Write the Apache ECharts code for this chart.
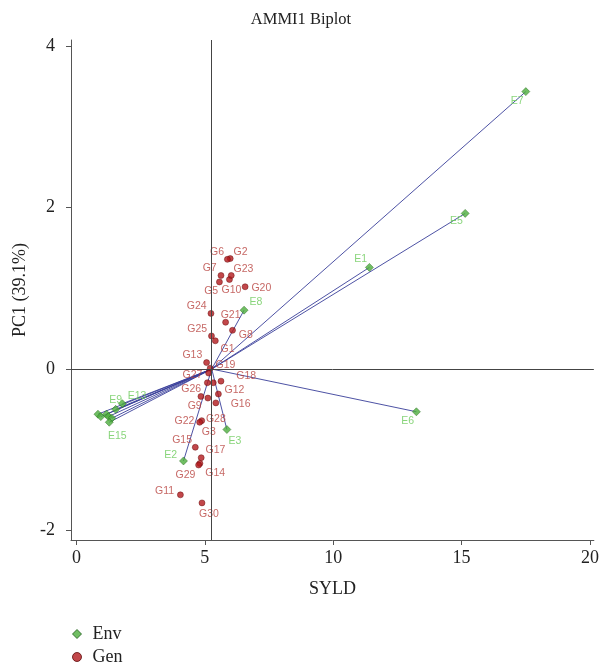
<!DOCTYPE html>
<html>
<head>
<meta charset="utf-8">
<script src="https://cdn.jsdelivr.net/npm/echarts@6/dist/echarts.min.js"></script>
<style>
  html, body { margin: 0; padding: 0; background: #fff; }
  #chart { width: 602px; height: 669px; }
</style>
</head>
<body>
<div id="chart"></div>
<script>
// grand mean of yield (origin of the environment vectors)
var meanYield = 5.27;

var envNames = ['E1', 'E2', 'E3', 'E4', 'E5', 'E6', 'E7', 'E8', 'E9', 'E10', 'E11', 'E12', 'E13', 'E14', 'E15'];
var envX = [11.41, 4.17, 5.86, 0.84, 15.14, 13.24, 17.50, 6.53, 1.53, 0.95, 1.17, 1.25, 1.79, 1.38, 1.28];
var envY = [1.26, -1.14, -0.75, -0.56, 1.93, -0.53, 3.44, 0.73, -0.50, -0.59, -0.56, -0.59, -0.43, -0.61, -0.66];

var genNames = ['G1', 'G2', 'G3', 'G4', 'G5', 'G6', 'G7', 'G8', 'G9', 'G10',
  'G11', 'G12', 'G13', 'G14', 'G15', 'G16', 'G17', 'G18', 'G19', 'G20',
  'G21', 'G22', 'G23', 'G24', 'G25', 'G26', 'G27', 'G28', 'G29', 'G30'];
var genX = [5.41, 5.99, 4.88, 5.12, 5.57, 5.88, 5.63, 6.08, 4.85, 5.96,
  4.05, 5.33, 5.07, 4.81, 4.63, 5.53, 4.86, 5.63, 5.21, 6.57,
  5.81, 4.80, 6.03, 5.24, 5.26, 5.10, 5.15, 5.43, 4.76, 4.89];
var genY = [0.35, 1.37, -0.64, -0.36, 1.08, 1.36, 1.16, 0.48, -0.34, 1.11,
  -1.56, -0.17, 0.08, -1.17, -0.97, -0.31, -1.10, -0.15, 0.01, 1.02,
  0.58, -0.66, 1.16, 0.69, 0.41, -0.17, -0.05, -0.42, -1.19, -1.66];

var xTicks = [0, 5, 10, 15, 20];
var yTicks = [-2, 0, 2, 4];

// label placement: [position, dx, dy, distance]
var envLabelPos = {
  E1: ['left', 2, -8, 0], E2: ['left', 0, -6, 2], E3: ['bottom', 8, 0, 2],
  E5: ['left', 2, 8, 0], E6: ['left', 2, 9, 0], E7: ['left', 2, 9, 0],
  E8: ['right', 0, -8, 1], E9: ['top', 0, 2, 1], E13: ['right', 0, -8, 1], E15: ['bottom', 8, 2, 2]
};
var genLabelPos = {
  G1: ['right', 0, 8, 2], G2: ['right', 0, -6, 0], G3: ['bottom', 7, 0, 3],
  G5: ['left', 0, 9, -2], G6: ['left', 0, -7, 0], G7: ['left', 0, -7, 1],
  G8: ['right', 0, 5, 3], G9: ['left', 0, 10, -4], G10: ['bottom', 2, 0, 2],
  G11: ['left', 0, -4, 3], G12: ['right', 0, 7, 8], G13: ['left', 0, -7, 1],
  G14: ['right', 0, 10, 2], G15: ['left', 0, -7, 0], G16: ['right', 0, 10, 9],
  G17: ['right', 0, -8, 1], G18: ['right', 0, -5, 12], G19: ['right', 0, -3, 2],
  G20: ['right', 0, 1, 3], G21: ['top', 5, 2, 0], G22: ['left', 0, -1, 2],
  G23: ['right', 0, -6, -1], G24: ['left', 0, -7, 1], G25: ['left', 0, -7, 1],
  G26: ['left', 0, 6, 3], G27: ['left', 0, 2, 3], G28: ['bottom', 0, 0, 7],
  G29: ['left', 0, 10, 0], G30: ['bottom', 7, 0, 2]
};

function buildPoints(names, xs, ys, posMap, color) {
  return names.map(function (n, i) {
    var p = posMap[n];
    return {
      name: n,
      value: [xs[i], ys[i]],
      label: p ? {
        show: true, position: p[0], offset: [p[1], p[2]], distance: p[3],
        formatter: '{b}', color: color, fontSize: 10.5, fontFamily: 'Liberation Sans'
      } : { show: false }
    };
  });
}

var envVectors = envNames.map(function (n, i) {
  return { coords: [[meanYield, 0], [envX[i], envY[i]]] };
});

var serif = 'Liberation Serif';

var chart = echarts.init(document.getElementById('chart'));
var option = {
  animation: false,
  title: {
    text: 'AMMI1 Biplot', left: 'center', top: 6,
    textStyle: { fontFamily: serif, fontSize: 16.5, fontWeight: 'normal', color: '#222' }
  },
  grid: { left: 71, right: 6, top: 40, bottom: 129 },
  legend: {
    data: [
      { name: 'Env', icon: 'diamond', itemStyle: { color: '#4cae3c', borderColor: '#1d5a18', borderWidth: 1 } },
      { name: 'Gen', icon: 'circle', itemStyle: { color: '#b3191d', borderColor: '#5c0a0a', borderWidth: 1 } }
    ],
    orient: 'vertical', left: 72, top: 625, height: 60, padding: 0,
    itemWidth: 9, itemHeight: 9, itemGap: 5,
    textStyle: { fontFamily: serif, fontSize: 18, color: '#222', padding: [0, 0, 0, 6] }
  },
  xAxis: {
    type: 'value', min: -0.21, max: 20.15,
    name: 'SYLD', nameLocation: 'middle', nameGap: 40,
    nameTextStyle: { fontFamily: serif, fontSize: 18, color: '#222' },
    axisLine: { show: true, onZero: false, lineStyle: { color: '#555' } },
    axisTick: { show: true, customValues: xTicks, length: 5, lineStyle: { color: '#555' } },
    axisLabel: { customValues: xTicks, fontFamily: serif, fontSize: 18, color: '#222', margin: 9 },
    splitLine: { show: false }
  },
  yAxis: {
    type: 'value', min: -2.12, max: 4.08,
    name: 'PC1 (39.1%)', nameLocation: 'middle', nameGap: 42,
    nameTextStyle: { fontFamily: serif, fontSize: 18, color: '#222' },
    axisLine: { show: true, onZero: false, lineStyle: { color: '#555' } },
    axisTick: { show: true, customValues: yTicks, length: 5, lineStyle: { color: '#555' } },
    axisLabel: { customValues: yTicks, fontFamily: serif, fontSize: 18, color: '#222', margin: 16 },
    splitLine: { show: false }
  },
  series: [
    {
      name: 'vectors',
      type: 'lines',
      coordinateSystem: 'cartesian2d',
      silent: true,
      z: 2,
      lineStyle: { color: '#3a3f9a', width: 1, opacity: 0.9 },
      data: envVectors,
      markLine: {
        silent: true, symbol: 'none', label: { show: false },
        lineStyle: { color: '#444', width: 1, type: 'solid' },
        data: [{ xAxis: meanYield }, { yAxis: 0 }]
      }
    },
    {
      name: 'Gen',
      type: 'scatter',
      z: 3,
      symbol: 'circle', symbolSize: 6,
      itemStyle: { color: '#b3191d', borderColor: '#6a0c0c', borderWidth: 0.6 },
      data: buildPoints(genNames, genX, genY, genLabelPos, '#b8413d')
    },
    {
      name: 'Env',
      type: 'scatter',
      z: 4,
      symbol: 'diamond', symbolSize: 8,
      itemStyle: { color: '#4cae3c', borderColor: '#2a6d22', borderWidth: 0.6 },
      data: buildPoints(envNames, envX, envY, envLabelPos, '#6bcb5a')
    }
  ]
};
chart.setOption(option);
</script>
</body>
</html>
